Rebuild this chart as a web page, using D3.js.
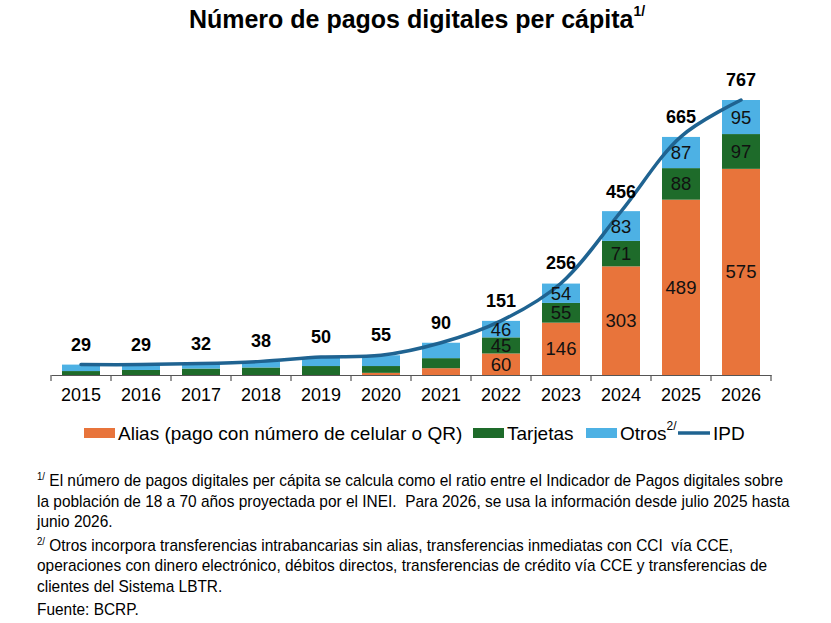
<!DOCTYPE html>
<html>
<head>
<meta charset="utf-8">
<script src="https://cdn.jsdelivr.net/npm/d3@7"></script>
<style>
  body { margin: 0; background: #fff; }
  text { font-family: "Liberation Sans", Arial, sans-serif; }
  .note { white-space: pre; }
</style>
</head>
<body>
<div id="chart"></div>
<script>
const years = ['2015', '2016', '2017', '2018', '2019', '2020', '2021', '2022', '2023', '2024', '2025', '2026'];
const alias    = [0, 0, 0, 0, 0, 6, 19, 60, 146, 303, 489, 575];
const tarjetas = [11, 14, 18, 21, 25, 19, 28, 45, 55, 71, 88, 97];
const otros    = [18, 15, 14, 17, 25, 30, 43, 46, 54, 83, 87, 95];
const ipd      = [29, 29, 32, 38, 50, 55, 90, 151, 256, 456, 665, 767];
// segment labels are only shown from 2022 on
const firstLabelled = '2022';

const seriesNames = ['Alias (pago con número de celular o QR)', 'Tarjetas', 'Otros'];
const notes = [
    { sup: '1/', lines: [
        'El número de pagos digitales per cápita se calcula como el ratio entre el Indicador de Pagos digitales sobre',
        'la población de 18 a 70 años proyectada por el INEI.  Para 2026, se usa la información desde julio 2025 hasta',
        'junio 2026.'] },
    { sup: '2/', lines: [
        'Otros incorpora transferencias intrabancarias sin alias, transferencias inmediatas con CCI  vía CCE,',
        'operaciones con dinero electrónico, débitos directos, transferencias de crédito vía CCE y transferencias de',
        'clientes del Sistema LBTR.'] },
    { sup: '', lines: ['Fuente: BCRP.'] }
];

const colors = { alias: '#e8743b', tarjetas: '#1e6b2a', otros: '#4db1e4', ipd: '#1f6391' };

const width = 831, height = 623;
const baseY = 375;     // x axis line
const barW = 38;

const svg = d3.select('#chart').append('svg')
    .attr('width', width)
    .attr('height', height);

// title
const title = svg.append('text')
    .attr('x', 417)
    .attr('y', 28)
    .attr('text-anchor', 'middle')
    .attr('font-size', '25px')
    .attr('font-weight', 'bold')
    .attr('fill', '#000');
title.append('tspan').text('Número de pagos digitales per cápita');
title.append('tspan').attr('font-size', '14px').attr('dy', -12).text('1/');

const x = d3.scaleBand().domain(years).range([51, 771]).padding(0);
const y = d3.scaleLinear().domain([0, 767]).range([baseY, 100]);

// stack the three series
const rows = years.map((yr, i) => ({ year: yr, alias: alias[i], tarjetas: tarjetas[i], otros: otros[i] }));
const stacked = d3.stack().keys(['alias', 'tarjetas', 'otros'])(rows);

const barX = d => x(d.data.year) + (x.bandwidth() - barW) / 2;

svg.append('g').selectAll('g')
    .data(stacked)
    .enter()
    .append('g')
        .attr('fill', s => colors[s.key])
    .selectAll('rect')
    .data(s => s)
    .enter()
    .append('rect')
        .attr('x', barX)
        .attr('y', d => y(d[1]))
        .attr('width', barW)
        .attr('height', d => y(d[0]) - y(d[1]));

// axis: line and ticks between categories
const axis = d3.axisBottom(x).tickSize(0).tickPadding(13);
const axisG = svg.append('g')
    .attr('transform', `translate(0,${baseY})`)
    .call(axis);
axisG.select('.domain').attr('stroke', '#555').attr('stroke-width', 1.2);
axisG.selectAll('text')
    .attr('font-size', '18px')
    .attr('font-family', '"Liberation Sans", Arial, sans-serif')
    .attr('fill', '#000');
axisG.selectAll('line.sep')
    .data(years.concat(['end']))
    .enter()
    .append('line')
        .attr('class', 'sep')
        .attr('x1', (d, i) => 51 + i * x.step())
        .attr('x2', (d, i) => 51 + i * x.step())
        .attr('y1', 0)
        .attr('y2', 6)
        .attr('stroke', '#555')
        .attr('stroke-width', 1.2);

// IPD smoothed line
const line = d3.line()
    .x((d, i) => x(years[i]) + x.bandwidth() / 2)
    .y(d => y(d))
    .curve(d3.curveCatmullRom.alpha(0.5));

svg.append('path')
    .datum(ipd)
    .attr('d', line)
    .attr('fill', 'none')
    .attr('stroke', colors.ipd)
    .attr('stroke-width', 3.5)
    .attr('stroke-linecap', 'round');

// segment labels
const labelStart = years.indexOf(firstLabelled);
svg.append('g').selectAll('g')
    .data(stacked)
    .enter()
    .append('g')
    .selectAll('text')
    .data(s => s.filter((d, i) => i >= labelStart))
    .enter()
    .append('text')
        .attr('x', d => x(d.data.year) + x.bandwidth() / 2)
        .attr('y', d => (y(d[0]) + y(d[1])) / 2 + 6.5)
        .attr('text-anchor', 'middle')
        .attr('font-size', '18.5px')
        .attr('fill', '#111')
        .text(d => d[1] - d[0]);

// totals (IPD values) above bars
svg.append('g').selectAll('text')
    .data(ipd)
    .enter()
    .append('text')
        .attr('x', (d, i) => x(years[i]) + x.bandwidth() / 2)
        .attr('y', d => y(d) - 14)
        .attr('text-anchor', 'middle')
        .attr('font-size', '18px')
        .attr('font-weight', 'bold')
        .attr('fill', '#000')
        .text(d => d);

// legend
const legend = svg.append('g').attr('font-size', '19px');
const legendItems = [
    { key: 'alias', label: seriesNames[0], x: 84 },
    { key: 'tarjetas', label: seriesNames[1], x: 473 },
    { key: 'otros', label: seriesNames[2], x: 586, sup: '2/' }
];
legendItems.forEach(item => {
    legend.append('rect')
        .attr('x', item.x)
        .attr('y', 428)
        .attr('width', 31)
        .attr('height', 10)
        .attr('fill', colors[item.key]);
    const t = legend.append('text')
        .attr('x', item.x + 34)
        .attr('y', 440)
        .attr('fill', '#000');
    t.append('tspan').text(item.label);
    if (item.sup) t.append('tspan').attr('font-size', '12px').attr('dy', -10).text(item.sup);
});
legend.append('line')
    .attr('x1', 678).attr('x2', 710)
    .attr('y1', 433).attr('y2', 433)
    .attr('stroke', colors.ipd)
    .attr('stroke-width', 3.5);
legend.append('text')
    .attr('x', 713)
    .attr('y', 440)
    .attr('fill', '#000')
    .text('IPD');

// footnotes (slightly condensed, the original uses a narrow face)
const noteG = svg.append('g').attr('transform', 'translate(37,0) scale(0.965,1)');
let lineY = 486;
notes.forEach(note => {
    note.lines.forEach((txt, i) => {
        const t = noteG.append('text')
            .attr('class', 'note')
            .attr('x', 0)
            .attr('y', lineY)
            .attr('font-size', '16px')
            .attr('fill', '#000');
        if (i === 0 && note.sup) {
            t.append('tspan').attr('font-size', '10px').attr('dy', -6).text(note.sup);
            t.append('tspan').attr('dy', 6).text(' ' + txt);
        } else {
            t.text(txt);
        }
        lineY += 20.7;
    });
    lineY += 2.5;
});
</script>
</body>
</html>
